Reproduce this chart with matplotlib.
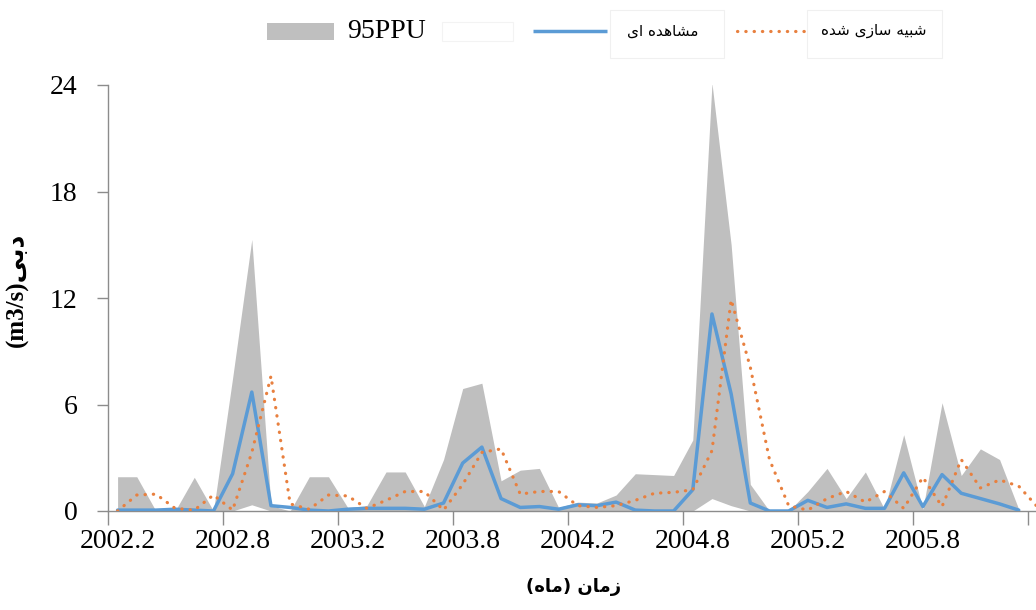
import matplotlib
matplotlib.use("Agg")
import matplotlib.pyplot as plt
from matplotlib.patches import Rectangle
from matplotlib.lines import Line2D
import numpy as np

# ---------------- data (monthly, starting 2002.2) ----------------
tick_labels = ["2002.2", "2002.8", "2003.2", "2003.8", "2004.2", "2004.8", "2005.2", "2005.8"]

ppu_upper = [1.93, 1.93, 0.0, 0.0, 1.9, 0.0, 7.5, 15.3, 0.3, 0.0, 1.93, 1.93,
             0.2, 0.3, 2.2, 2.2, 0.25, 2.9, 6.9, 7.2, 1.7, 2.3, 2.4, 0.2,
             0.5, 0.45, 0.9, 2.1, 2.05, 2.0, 4.0, 24.1, 15.0, 1.5, 0.0, 0.0,
             1.1, 2.4, 0.7, 2.2, 0.1, 4.3, 0.1, 6.1, 2.0, 3.5, 2.9, 0.1]
ppu_lower = [0.0, 0.0, 0.0, 0.0, 0.0, 0.0, 0.0, 0.35, 0.0, 0.0, 0.0, 0.0,
             0.0, 0.0, 0.0, 0.0, 0.0, 0.0, 0.0, 0.0, 0.0, 0.0, 0.0, 0.0,
             0.0, 0.0, 0.0, 0.0, 0.0, 0.0, 0.0, 0.7, 0.3, 0.0, 0.0, 0.0,
             0.0, 0.0, 0.0, 0.0, 0.0, 0.0, 0.0, 0.0, 0.0, 0.0, 0.0, 0.0]
observed = [0.05, 0.05, 0.05, 0.1, 0.05, 0.0, 2.1, 6.7, 0.3, 0.2, 0.05, 0.0,
            0.1, 0.15, 0.15, 0.15, 0.1, 0.45, 2.7, 3.6, 0.7, 0.2, 0.25, 0.1,
            0.35, 0.3, 0.5, 0.05, 0.0, 0.0, 1.2, 11.1, 6.6, 0.45, 0.0, 0.0,
            0.6, 0.2, 0.4, 0.15, 0.15, 2.15, 0.25, 2.05, 1.0, 0.7, 0.4, 0.05]
simulated = [0.0, 0.9, 0.95, 0.15, 0.05, 0.9, 0.05, 3.3, 7.6, 0.4, 0.1, 0.9,
             0.85, 0.15, 0.6, 1.1, 1.1, 0.05, 1.5, 3.3, 3.5, 0.95, 1.1, 1.1,
             0.3, 0.2, 0.3, 0.6, 1.0, 1.05, 1.2, 3.4, 11.9, 8.1, 2.9, 0.3,
             0.05, 0.7, 1.1, 0.5, 1.1, 0.15, 1.9, 0.25, 2.9, 1.3, 1.75, 1.4, 0.2]

# Persian texts (pre-shaped, visual order)
lbl_ppu = "95PPU"
lbl_obs = "\uFEEF\uFE8D \uFEE9\uFEAA\uFEEB\uFE8E\uFEB8\uFEE3"          # مشاهده ای
lbl_sim = "\uFEE9\uFEAA\uFEB7 \uFEEF\uFEAF\uFE8E\uFEB3 \uFEEA\uFEF4\uFE92\uFEB7"  # شبیه سازی شده
ylabel = "(m3/s)" + "\uFEF0\uFE91\uFEA9"                                # دبی
xlabel = "(" + "\uFEE9\uFE8E\uFEE3" + ") " + "\uFEE5\uFE8E\uFEE3\uFEAF"  # (ماه) زمان

GRAY = "#BFBFBF"
BLUE = "#5B9BD5"
ORANGE = "#E8803F"
AXC = "#8C8C8C"
SERIF = ["Liberation Serif", "DejaVu Sans"]
PERS = ["DejaVu Sans"]

W, H = 1036, 610
fig = plt.figure(figsize=(W / 100, H / 100), dpi=100)
ax = fig.add_axes([108 / W, 1 - 511 / H, (W - 108) / W, (511 - 85) / H])

x = np.arange(len(ppu_upper))
ax.fill_between(x, ppu_lower, ppu_upper, color=GRAY, linewidth=0, zorder=1)
ax.plot(np.arange(len(observed)), observed, color=BLUE, lw=2.5,
        solid_joinstyle="round", solid_capstyle="round", zorder=3)
ax.plot(np.arange(len(simulated)), simulated, color=ORANGE, lw=2.3,
        linestyle=(0, (0.1, 2.5)), dash_capstyle="round", zorder=4)

ax.set_xlim(-0.5, 47.9)
ax.set_ylim(0, 24)
ax.set_yticks([0, 6, 12, 18, 24])
ax.set_yticklabels(["0", "6", "12", "18", "24"], family=SERIF, fontsize=20)
# labels on category centres (major), tick marks on category borders (minor)
ax.set_xticks([i * 6 for i in range(len(tick_labels))])
ax.set_xticklabels(tick_labels, family=SERIF, fontsize=20)
ax.set_xticks([i * 6 - 0.5 for i in range(9)], minor=True)
ax.tick_params(axis="x", which="major", length=0, pad=13)
ax.tick_params(axis="x", which="minor", length=10, width=1, color=AXC, direction="out")
ax.tick_params(axis="y", length=8, width=1, color=AXC, direction="out", pad=14)

for s in ["top", "right"]:
    ax.spines[s].set_visible(False)
for s in ["left", "bottom"]:
    ax.spines[s].set_color(AXC)
    ax.spines[s].set_linewidth(1)

ax.set_ylabel(ylabel, family=SERIF, fontweight="bold", fontsize=18)
ax.yaxis.set_label_coords(-0.085, 0.52)
fig.text(574 / W, 1 - 587 / H, xlabel, family=PERS, fontweight="bold",
         fontsize=13, ha="center", va="center")

# ---------------- legend (manual, top) ----------------
def fx(px):
    return px / W

def fy(py):
    return 1 - py / H

ly = 31
fig.add_artist(Rectangle((fx(267), fy(40)), (334 - 267) / W, 17 / H,
                         transform=fig.transFigure, facecolor=GRAY, edgecolor="none"))
fig.text(fx(347), fy(ly), lbl_ppu, family=SERIF, fontsize=20, ha="left", va="center")
fig.add_artist(Rectangle((fx(442), fy(41)), (513 - 442) / W, 19 / H,
                         transform=fig.transFigure, facecolor="white", edgecolor="#F3F3F3", lw=0.8))
fig.add_artist(Line2D([fx(533), fx(607)], [fy(ly), fy(ly)], transform=fig.transFigure,
                      color=BLUE, lw=2.5, solid_capstyle="butt"))
fig.add_artist(Rectangle((fx(610), fy(58)), (724 - 610) / W, 48 / H,
                         transform=fig.transFigure, facecolor="white", edgecolor="#F0F0F0", lw=0.8))
fig.text(fx(663), fy(ly), lbl_obs, family=PERS, fontsize=11, ha="center", va="center")
fig.add_artist(Line2D([fx(737), fx(805)], [fy(ly), fy(ly)], transform=fig.transFigure,
                      color=ORANGE, lw=2.3, linestyle=(0, (0.1, 2.5)), dash_capstyle="round"))
fig.add_artist(Rectangle((fx(807), fy(58)), (942 - 807) / W, 48 / H,
                         transform=fig.transFigure, facecolor="white", edgecolor="#F0F0F0", lw=0.8))
fig.text(fx(874), fy(ly), lbl_sim, family=PERS, fontsize=11, ha="center", va="center")

fig.savefig("out.png", dpi=100)
